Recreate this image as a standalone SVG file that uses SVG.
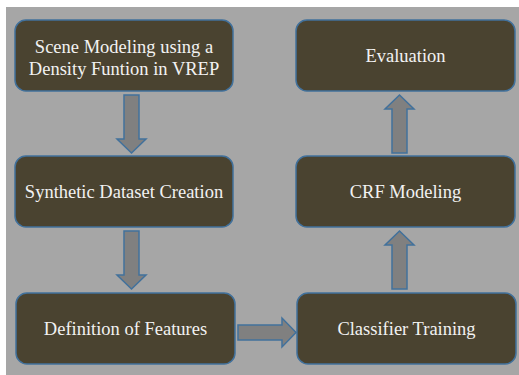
<svg xmlns="http://www.w3.org/2000/svg" width="519" height="375" viewBox="0 0 519 375">
  <style>
    .box { fill: #4a4330; stroke: #41719c; stroke-width: 1.5; }
    .label { fill: #f2f2f2; font-family: "Liberation Serif", "Times New Roman", serif; font-size: 18.5px; text-anchor: middle; }
    .arrow { fill: #808080; stroke: #41719c; stroke-width: 1.5; stroke-linejoin: miter; }
  </style>
  <rect x="0" y="0" width="519" height="375" fill="#ffffff"/>
  <rect x="6" y="7" width="513" height="368" fill="#a6a6a6"/>

  <g id="scene-modeling">
    <rect class="box" x="15" y="20" width="218" height="71" rx="11"/>
    <text class="label" x="124" y="53">Scene Modeling using a</text>
    <text class="label" x="124" y="75">Density Funtion in VREP</text>
  </g>
  <g id="synthetic-dataset">
    <rect class="box" x="15" y="156" width="218" height="71" rx="11"/>
    <text class="label" x="124" y="198">Synthetic Dataset Creation</text>
  </g>
  <g id="definition-features">
    <rect class="box" x="16" y="293" width="219" height="71" rx="11"/>
    <text class="label" x="125.5" y="335">Definition of Features</text>
  </g>
  <g id="classifier-training">
    <rect class="box" x="297" y="293" width="219" height="71" rx="11"/>
    <text class="label" x="406.5" y="335">Classifier Training</text>
  </g>
  <g id="crf-modeling">
    <rect class="box" x="296" y="156" width="219" height="71" rx="11"/>
    <text class="label" x="405.5" y="198">CRF Modeling</text>
  </g>
  <g id="evaluation">
    <rect class="box" x="296" y="20" width="219" height="71" rx="11"/>
    <text class="label" x="405.5" y="62">Evaluation</text>
  </g>

  <g id="connectors">
    <!-- down: scene modeling to dataset -->
    <polygon class="arrow" points="124,95 139,95 139,139 146,139 131.5,153 117,139 124,139"/>
    <!-- down: dataset to features -->
    <polygon class="arrow" points="124,231 139,231 139,275 146,275 131.5,289 117,275 124,275"/>
    <!-- right: features to classifier -->
    <polygon class="arrow" points="238,325 282,325 282,318 296,332.5 282,347 282,340 238,340"/>
    <!-- up: classifier to CRF -->
    <polygon class="arrow" points="392,289 407,289 407,245 414,245 399.5,231 385,245 392,245"/>
    <!-- up: CRF to evaluation -->
    <polygon class="arrow" points="392,153 407,153 407,109 414,109 399.5,95 385,109 392,109"/>
  </g>
</svg>
